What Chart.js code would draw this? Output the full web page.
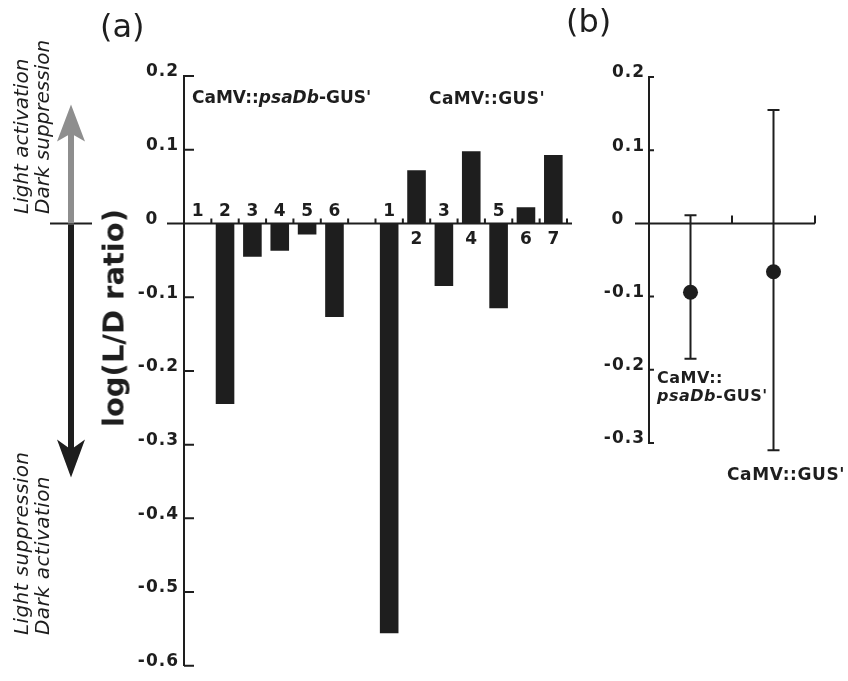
<!DOCTYPE html>
<html>
<head>
<meta charset="utf-8">
<script src="https://cdn.jsdelivr.net/npm/chart.js@4/dist/chart.umd.min.js"></script>
<style>
  body { margin: 0; background: #fff; }
  #wrap { position: relative; width: 848px; height: 681px; overflow: hidden; background: #fff; color: #1e1e1e; }
  canvas { position: absolute; top: 0; }
  #chartA { left: 0; }
  #chartB { left: 560px; }
  .txt { position: absolute; font-family: "DejaVu Sans", sans-serif; white-space: pre; line-height: 1; }
  .panel { font-size: 32px; }
  .group { font-size: 17px; font-weight: bold; }
  .side { font-size: 20px; font-style: italic; line-height: 21px; transform-origin: 0 0; transform: rotate(-90deg); }
  .ytitle { font-size: 29px; font-weight: bold; transform: translate(-50%, -50%) rotate(-90deg); }
</style>
</head>
<body>
<div id="wrap">
  <canvas id="chartA" width="600" height="681"></canvas>
  <canvas id="chartB" width="288" height="681"></canvas>

  <div class="txt panel" style="left:100px; top:10px;">(a)</div>
  <div class="txt panel" style="left:566px; top:5px;">(b)</div>

  <div class="txt group" style="left:192px; top:89px;">CaMV::<i>psaDb</i>-GUS'</div>
  <div class="txt group" style="left:429px; top:90px; letter-spacing:0.4px;">CaMV::GUS'</div>

  <div class="txt ytitle" style="left:114px; top:318px;">log(L/D ratio)</div>

  <div class="txt side" style="left:11px; top:214px;">Light activation
Dark suppression</div>
  <div class="txt side" style="left:11px; top:635px; letter-spacing:0.4px;">Light suppression
Dark activation</div>

  <div class="txt group" style="left:657px; top:369px; font-size:16px; line-height:18px; letter-spacing:0.5px;">CaMV::
<i>psaDb</i>-GUS'</div>
  <div class="txt group" style="left:727px; top:466px; letter-spacing:0.6px;">CaMV::GUS'</div>
</div>

<script>
// panel (a): one bar per transgenic line, empty slot between the two constructs
const slotLabels = ["1", "2", "3", "4", "5", "6", "", "1", "2", "3", "4", "5", "6", "7"];
const psadbLines = [0, -0.245, -0.045, -0.037, -0.015, -0.127];
const gusLines = [-0.556, 0.072, -0.085, 0.098, -0.115, 0.022, 0.093];
const ticksA = [0.2, 0.1, 0, -0.1, -0.2, -0.3, -0.4, -0.5, -0.6];

// panel (b): mean of each construct with its range
const constructs = ["CaMV::psaDb-GUS'", "CaMV::GUS'"];
const meanRatio = [-0.094, -0.066];
const errTop = [0.011, 0.155];
const errBottom = [-0.185, -0.31];
const ticksB = [0.2, 0.1, 0, -0.1, -0.2, -0.3];

const barData = psadbLines.concat([null], gusLines);
const ink = "#1e1e1e";

function tickText(v) {
  return v === 0 ? "0   " : v.toFixed(1);
}

function yAxis(min, max, list, width, pad) {
  return {
    min: min,
    max: max,
    afterBuildTicks: (s) => { s.ticks = list.map((v) => ({ value: v })); },
    afterFit: (s) => { s.width = width; },
    grid: { display: false, drawTicks: false },
    border: { display: true, color: ink, width: 2 },
    ticks: {
      callback: tickText,
      color: ink,
      padding: pad,
      labelOffset: -4,
      font: { family: "DejaVu Sans", weight: "bold", size: 17 },
    },
  };
}

const spacedTicks = {
  id: "spacedTicks",
  beforeDraw(chart) { chart.ctx.letterSpacing = "1px"; },
  beforeDatasetsDraw(chart) { chart.ctx.letterSpacing = "0px"; },
};

const panelAExtras = {
  id: "panelAExtras",
  afterDraw(chart) {
    const { ctx, chartArea: area, scales: { x, y } } = chart;
    const y0 = y.getPixelForValue(0);
    const slot = (area.right - area.left) / slotLabels.length;
    ctx.save();
    ctx.strokeStyle = ink;
    ctx.lineWidth = 2;
    ctx.beginPath();
    ctx.moveTo(area.left - 17, y0);
    ctx.lineTo(area.right + 5, y0);
    for (let i = 0; i < slotLabels.length; i++) {
      const bx = x.getPixelForValue(i) + slot / 2;
      ctx.moveTo(bx, y0);
      ctx.lineTo(bx, y0 - 5);
    }
    ticksA.forEach((v) => {
      const py = y.getPixelForValue(v);
      ctx.moveTo(area.left, py);
      ctx.lineTo(area.left + 10, py);
    });
    ctx.stroke();

    // line numbers above or below the zero line
    ctx.fillStyle = ink;
    ctx.font = 'bold 17px "DejaVu Sans"';
    ctx.textAlign = "center";
    ctx.textBaseline = "alphabetic";
    barData.forEach((v, i) => {
      if (v === null) return;
      const px = x.getPixelForValue(i);
      ctx.fillText(slotLabels[i], px, v > 0 ? y0 + 21 : y0 - 7);
    });

    // direction arrows on the left
    const ax = 71;
    ctx.beginPath();
    ctx.moveTo(50, y0);
    ctx.lineTo(92, y0);
    ctx.stroke();

    ctx.fillStyle = "#8e8e8e";
    ctx.fillRect(ax - 3, y0 - 92, 6, 92);
    ctx.beginPath();
    ctx.moveTo(ax, y0 - 119);
    ctx.lineTo(ax + 14, y0 - 82);
    ctx.lineTo(ax, y0 - 90);
    ctx.lineTo(ax - 14, y0 - 82);
    ctx.closePath();
    ctx.fill();

    ctx.fillStyle = ink;
    ctx.fillRect(ax - 3, y0 + 1, 6, 228);
    ctx.beginPath();
    ctx.moveTo(ax, y0 + 254);
    ctx.lineTo(ax + 14, y0 + 216);
    ctx.lineTo(ax, y0 + 226);
    ctx.lineTo(ax - 14, y0 + 216);
    ctx.closePath();
    ctx.fill();
    ctx.restore();
  },
};

const panelBExtras = {
  id: "panelBExtras",
  beforeDatasetsDraw(chart) {
    const { ctx, chartArea: area, scales: { x, y } } = chart;
    const y0 = y.getPixelForValue(0);
    const slot = (area.right - area.left) / constructs.length;
    ctx.save();
    ctx.letterSpacing = "0px";
    ctx.strokeStyle = ink;
    ctx.lineWidth = 2;
    ctx.beginPath();
    ctx.moveTo(area.left - 14, y0);
    ctx.lineTo(area.right, y0);
    for (let i = 0; i < constructs.length; i++) {
      const bx = x.getPixelForValue(i) + slot / 2;
      ctx.moveTo(bx, y0);
      ctx.lineTo(bx, y0 - 8);
    }
    ticksB.forEach((v) => {
      const py = y.getPixelForValue(v);
      ctx.moveTo(area.left, py);
      ctx.lineTo(area.left + 5, py);
    });
    // range bars
    meanRatio.forEach((m, i) => {
      const px = x.getPixelForValue(i);
      const top = y.getPixelForValue(errTop[i]);
      const bot = y.getPixelForValue(errBottom[i]);
      ctx.moveTo(px, top);
      ctx.lineTo(px, bot);
      ctx.moveTo(px - 6, top);
      ctx.lineTo(px + 6, top);
      ctx.moveTo(px - 6, bot);
      ctx.lineTo(px + 6, bot);
    });
    ctx.stroke();
    ctx.restore();
  },
};

new Chart(document.getElementById("chartA"), {
  type: "bar",
  data: {
    labels: slotLabels,
    datasets: [{
      data: barData,
      backgroundColor: ink,
      borderWidth: 0,
      barPercentage: 0.68,
      categoryPercentage: 1.0,
    }],
  },
  options: {
    responsive: false,
    animation: false,
    events: [],
    layout: { padding: { top: 76, right: 33, bottom: 9, left: 0 } },
    plugins: { legend: { display: false }, tooltip: { enabled: false } },
    scales: {
      x: { display: false },
      y: yAxis(-0.6, 0.2, ticksA, 184, 5),
    },
  },
  plugins: [spacedTicks, panelAExtras],
});

new Chart(document.getElementById("chartB"), {
  type: "line",
  data: {
    labels: constructs,
    datasets: [{
      data: meanRatio,
      showLine: false,
      pointRadius: 7.5,
      pointBackgroundColor: ink,
      pointBorderColor: ink,
      pointBorderWidth: 0,
    }],
  },
  options: {
    responsive: false,
    animation: false,
    events: [],
    layout: { padding: { top: 77, right: 33, bottom: 238, left: 0 } },
    plugins: { legend: { display: false }, tooltip: { enabled: false } },
    scales: {
      x: { display: false, offset: true },
      y: yAxis(-0.3, 0.2, ticksB, 89, 4),
    },
  },
  plugins: [spacedTicks, panelBExtras],
});
</script>
</body>
</html>
